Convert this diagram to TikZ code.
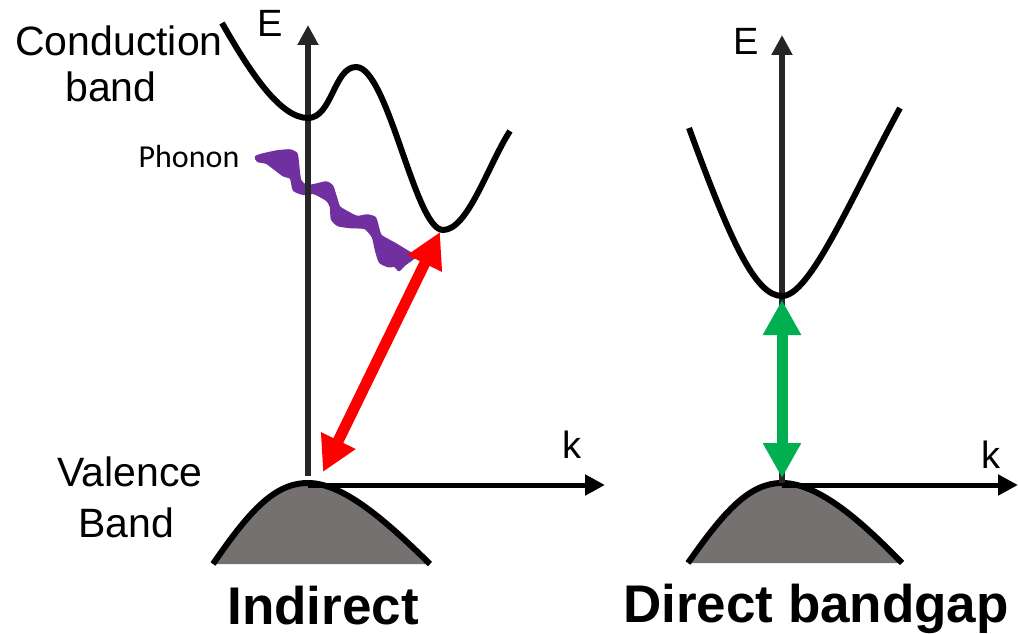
\documentclass[tikz,border=0pt]{standalone}
\usepackage{fontspec}
\setmainfont{Liberation Sans}
\newfontfamily\phfont{Carlito}
\usetikzlibrary{arrows.meta}
\definecolor{axisgray}{HTML}{262626}
\definecolor{vbgray}{HTML}{767171}
\definecolor{phpurple}{HTML}{7030A0}
\definecolor{gapgreen}{HTML}{00B050}
\tikzset{
  eaxis/.style={draw=axisgray, line width=6pt, -{Triangle[length=20pt,width=20pt]}},
  kaxis/.style={draw=black, line width=5pt, -{Triangle[length=20pt,width=20pt]}},
  band/.style={draw=black, line width=6pt},
  vband/.style={fill=vbgray},
  vedge/.style={draw=black, line width=6pt},
  trans/.style={line width=11pt, {Triangle[length=35pt,width=36pt]}-{Triangle[length=35pt,width=36pt]}},
  lbl/.style={font=\fontsize{41}{48}\selectfont, anchor=base, inner sep=0pt},
  axlbl/.style={font=\fontsize{38}{46}\selectfont, anchor=base, inner sep=0pt},
  title/.style={font=\fontsize{53}{60}\selectfont\bfseries, anchor=base, inner sep=0pt},
  phonon/.style={fill=phpurple, draw=phpurple, line width=2.5pt, line join=round},
}
\begin{document}
\begin{tikzpicture}[x=1pt,y=-1pt]
\useasboundingbox (0,0) rectangle (1018,634);

% ---------- coordinates ----------
\coordinate (vtopL) at (308,483);
\coordinate (eTopL) at (308,25);
\coordinate (eBotL) at (308,476);
\coordinate (kEndL) at (605,485);
\coordinate (kStartL) at (308,485);
\coordinate (cbMinL) at (443,230);
\coordinate (redLow) at (323,472);
\coordinate (redHigh) at (440,232);

\coordinate (vtopR) at (782,483);
\coordinate (eTopR) at (782,35);
\coordinate (eBotR) at (782,483);
\coordinate (kStartR) at (782,485);
\coordinate (kEndR) at (1018,485);
\coordinate (grnHigh) at (782,300);
\coordinate (grnLow) at (782,478);

% ---------- left: indirect ----------
% phonon (wavy ribbon), under the E axis
\filldraw[phonon] plot[smooth cycle, tension=0.35] coordinates {
  (256,157) (263,154.5) (277,151.5) (290,150.5) (296.5,154) (298,165) (300,180)
  (306,186) (315,185) (326,182.5) (332,186) (336,198) (339,207) (345,211)
  (357,217) (367,215.5) (375,218) (378,228) (381,236) (395,244) (410,253) (417,255)
  (404,265) (399,270) (395,266) (388,266) (380,262) (376,250) (373,237)
  (365,228) (350,227) (338,225) (332,219) (331,207) (327,200) (314,193)
  (304,194) (294,190) (291,178) (283,175) (267,163) (258,161)};

\fill[vband] (213,564) .. controls (250,510) and (275,483) .. (vtopL)
  .. controls (345,483) and (390,525) .. (430,564) -- cycle;
\draw[kaxis] (kStartL) -- (kEndL);
\draw[vedge] (213,564) .. controls (250,510) and (275,483) .. (vtopL)
  .. controls (345,483) and (390,525) .. (430,564);
\draw[eaxis] (eBotL) -- (eTopL);

\draw[band] (222,23) .. controls (250,72) and (280,118) .. (308,118)
  .. controls (332,118) and (334,67) .. (356,67)
  .. controls (388,67) and (415,230) .. (cbMinL)
  .. controls (468,230) and (488,165) .. (510,131);

\draw[trans, red] (redLow) -- (redHigh);

% labels left
\node[lbl] (cond1) at (119,56) {Conduction};
\node[lbl] (cond2) at (111,102) {band};
\node[lbl] (val1) at (130,486) {Valence};
\node[lbl] (val2) at (126,537) {Band};
\node[axlbl] (EL) at (270,37) {E};
\node[axlbl] (kL) at (572,458) {k};
\node[font=\phfont\fontsize{32}{38}\selectfont, anchor=base, inner sep=0pt] (phon) at (189,167) {Phonon};
\node[title] (ind) at (323,624) {Indirect};

% ---------- right: direct ----------
\fill[vband] (688,563) .. controls (725,510) and (750,483) .. (vtopR)
  .. controls (820,483) and (865,525) .. (902,563) -- cycle;
\draw[kaxis] (kStartR) -- (kEndR);
\draw[vedge] (688,563) .. controls (725,510) and (750,483) .. (vtopR)
  .. controls (820,483) and (865,525) .. (902,563);
\draw[eaxis] (eBotR) -- (eTopR);

\draw[band] (689,128) .. controls (730,240) and (755,296) .. (782,296)
  .. controls (810,296) and (850,200) .. (900,108);

\draw[trans, gapgreen] (grnHigh) -- (grnLow);

\node[axlbl] (ER) at (746,55) {E};
\node[axlbl] (kR) at (991,468) {k};
\node[title] (dir) at (816,622) {Direct bandgap};
\end{tikzpicture}
\end{document}
